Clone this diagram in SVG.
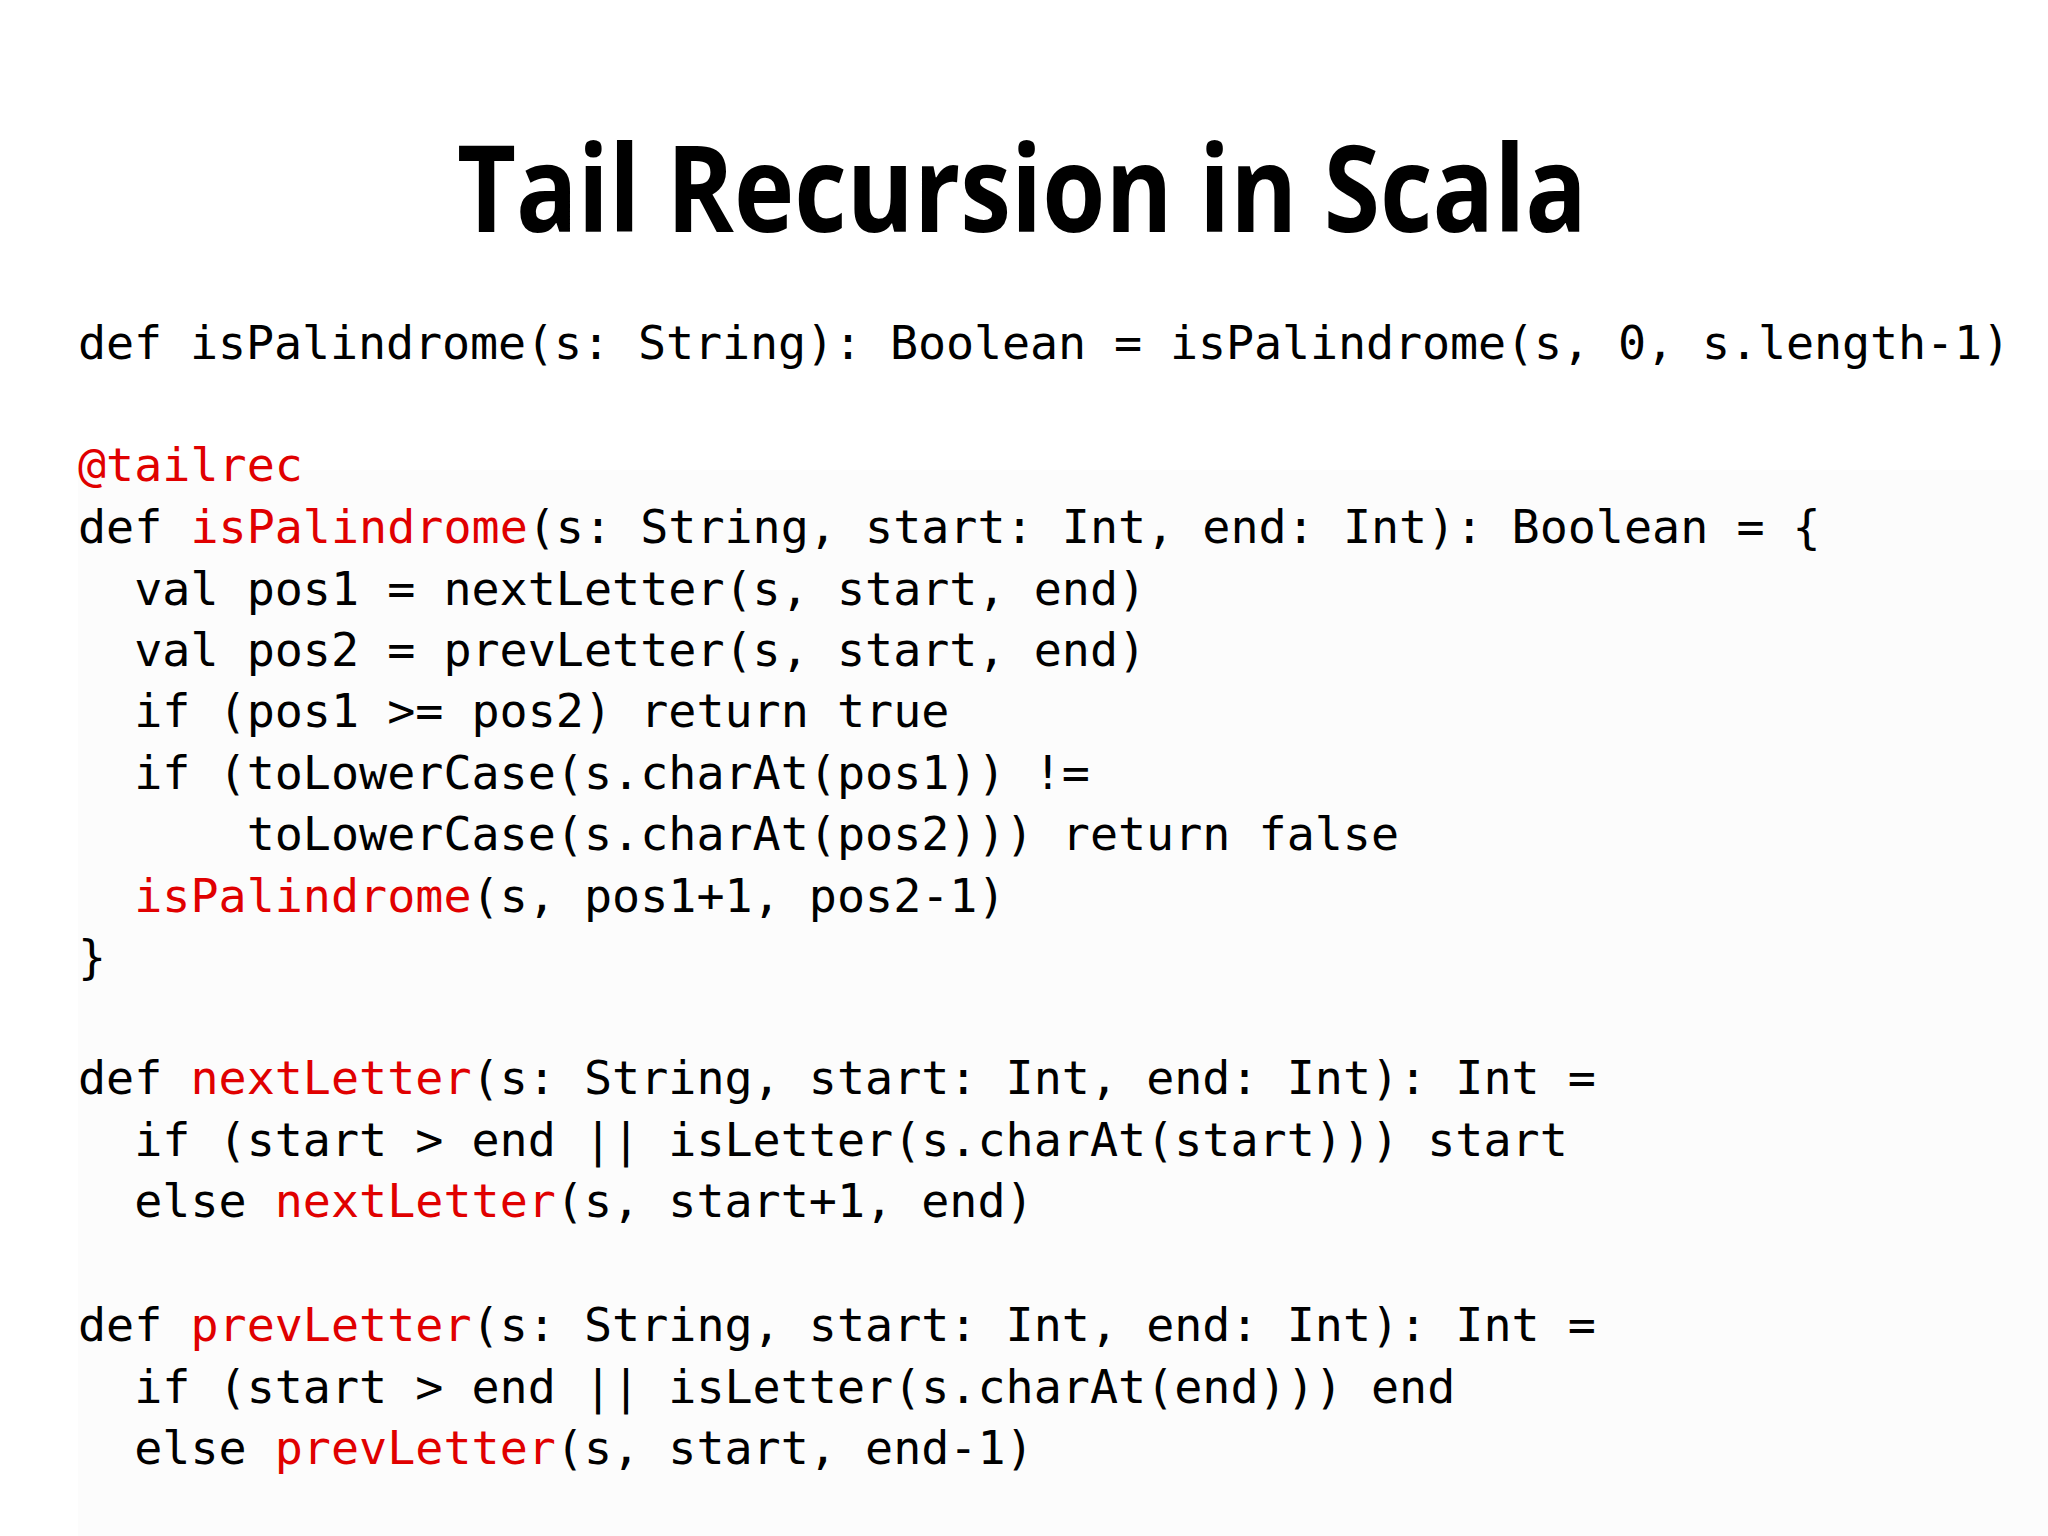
<svg xmlns="http://www.w3.org/2000/svg" width="2048" height="1536" viewBox="0 0 2048 1536">
<style>
.t{font-family:"Open Sans","Liberation Sans",sans-serif;font-weight:bold;font-size:120px;fill:#000}
.c{font-family:"DejaVu Sans Mono","Liberation Mono",monospace;font-size:46.7px;fill:#000;white-space:pre}
.r{fill:#e00000}
</style>
<rect width="2048" height="1536" fill="#fff"/>
<rect x="78" y="470" width="1970" height="1066" fill="#fcfcfc"/>
<text class="t" x="1022" y="232" text-anchor="middle" textLength="1130" lengthAdjust="spacingAndGlyphs">Tail Recursion in Scala</text>
<g id="code">
<text class="c" x="78" y="359" textLength="1932">def isPalindrome(s: String): Boolean = isPalindrome(s, 0, s.length-1)</text>
<text class="c r" x="78" y="481">@tailrec</text>
<text class="c" x="78" y="543">def <tspan class="r">isPalindrome</tspan>(s: String, start: Int, end: Int): Boolean = {</text>
<text class="c" x="78" y="605">  val pos1 = nextLetter(s, start, end)</text>
<text class="c" x="78" y="666">  val pos2 = prevLetter(s, start, end)</text>
<text class="c" x="78" y="727">  if (pos1 &gt;= pos2) return true</text>
<text class="c" x="78" y="789">  if (toLowerCase(s.charAt(pos1)) !=</text>
<text class="c" x="78" y="850">      toLowerCase(s.charAt(pos2))) return false</text>
<text class="c" x="78" y="912">  <tspan class="r">isPalindrome</tspan>(s, pos1+1, pos2-1)</text>
<text class="c" x="78" y="973">}</text>
<text class="c" x="78" y="1094">def <tspan class="r">nextLetter</tspan>(s: String, start: Int, end: Int): Int =</text>
<text class="c" x="78" y="1156">  if (start &gt; end || isLetter(s.charAt(start))) start</text>
<text class="c" x="78" y="1217">  else <tspan class="r">nextLetter</tspan>(s, start+1, end)</text>
<text class="c" x="78" y="1341">def <tspan class="r">prevLetter</tspan>(s: String, start: Int, end: Int): Int =</text>
<text class="c" x="78" y="1403">  if (start &gt; end || isLetter(s.charAt(end))) end</text>
<text class="c" x="78" y="1464">  else <tspan class="r">prevLetter</tspan>(s, start, end-1)</text>
</g>
</svg>
